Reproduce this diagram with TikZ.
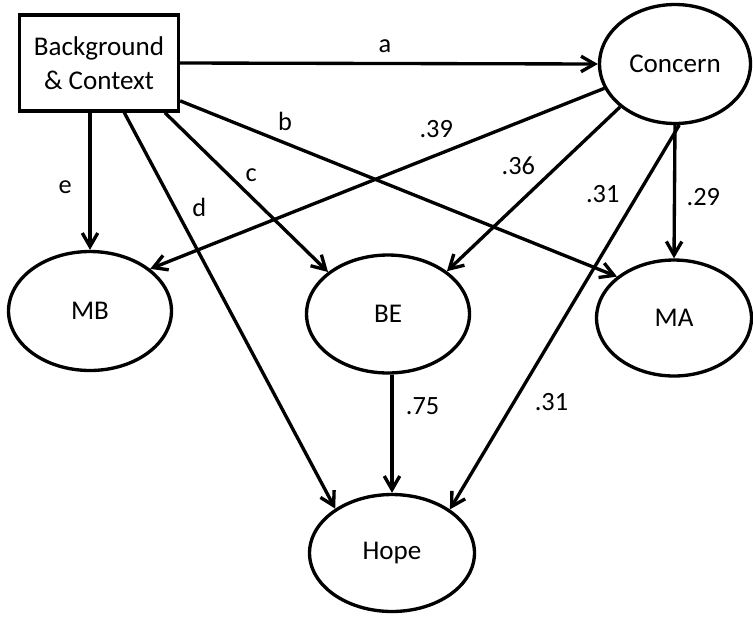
\documentclass[tikz,border=0pt]{standalone}
\usepackage{fontspec}
\setmainfont{Carlito}
\usetikzlibrary{positioning, arrows.meta, shapes.geometric}

\begin{document}
\begin{tikzpicture}[
        x=0.02cm, y=-0.02cm,
        font=\fontsize{15.4}{19.3}\selectfont,
        >={Straight Barb[length=2.7mm, width=3.1mm]},
        % Styles
        context/.style={% For the background box
            rectangle,
            draw,
            line width=1.9pt,
            minimum width=3.18cm,
            minimum height=1.92cm,
            align=center,
            inner sep=0pt,
            },
        latent/.style={% For the ellipses
            ellipse,
            draw,
            line width=1.9pt,
            inner sep=0pt,
            },
        ArrowC1/.style={% Paths between the nodes
            ->,
            line width=1.9pt,
            },
        coef/.style={% Labels on the paths
            font=\fontsize{15}{18}\selectfont,
            inner sep=0pt,
            },
        ]

    \useasboundingbox (0,0) rectangle (753,616);

    % Nodes
        % Draw the box
        \node [context] (bg) at (99,63) {Background\\\& Context};

        % Draw the ellipses
        \node [latent, minimum width=3.02cm, minimum height=2.38cm] (con) at (675,64) {Concern};
        \node [latent, minimum width=3.26cm, minimum height=2.38cm] (mb) at (90,311) {MB};
        \node [latent, minimum width=3.26cm, minimum height=2.36cm] (be) at (388,314) {BE};
        \node [latent, minimum width=3.1cm, minimum height=2.32cm] (ma) at (674,318) {MA};
        \node [latent, minimum width=3.3cm, minimum height=2.34cm] (hope) at (392,553) {Hope};

    % Paths from the box
        \draw [ArrowC1] (bg.east) -- node[coef, pos=0.49, above=5pt] {a} (con.west);
        \draw [ArrowC1] (bg.-25) -- node[coef, pos=0.24, above=6pt] {b} (ma.144);
        \draw [ArrowC1] (bg.-37) -- node[coef, pos=0.39, right=8.8pt] {c} (be.145);
        \draw [ArrowC1] (bg.-63) -- node[coef, pos=0.24, right=9pt] {d} (hope.142.7);
        \draw [ArrowC1] (mb.north |- bg.south) -- node[coef, pos=0.54, left=9.4pt] {e} (mb.north);

    % Paths from Concern
        \draw [ArrowC1] (con.199) -- node[coef, pos=0.37, above=9pt] {.39} (mb.35);
        \draw [ArrowC1] (con.-142) -- node[coef, pos=0.36, left=12pt] {.36} (be.36);
        \draw [ArrowC1] (con.-86) -- node[coef, pos=0.18, left=9.6pt] {.31}
            node[coef, pos=0.72, right=10.8pt] {.31} (hope.37);
        \draw [ArrowC1] (con.south) -- node[coef, pos=0.54, right=6pt] {.29} (ma.north);

    % Path to Hope
        \draw [ArrowC1] (hope.north |- be.south) -- node[coef, pos=0.27, right=7pt] {.75} (hope.north);

\end{tikzpicture}
\end{document}
